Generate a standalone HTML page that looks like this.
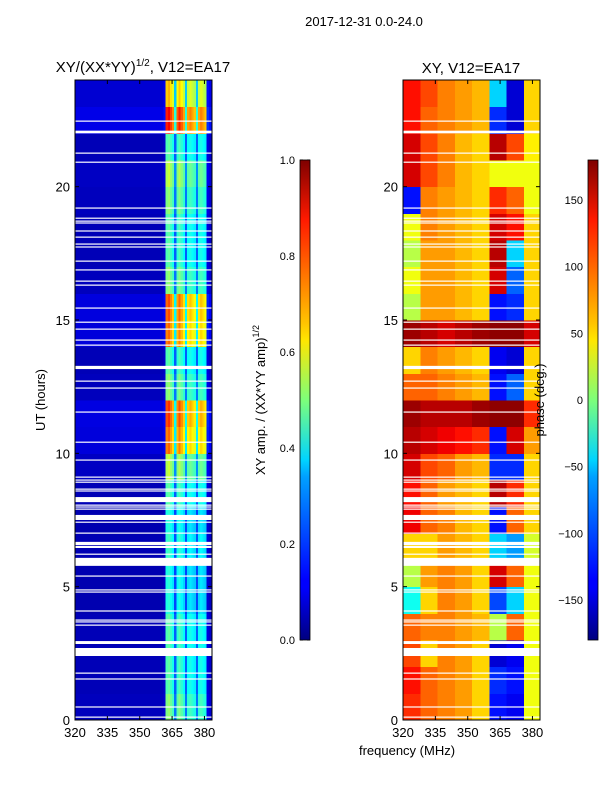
<!DOCTYPE html>
<html><head><meta charset="utf-8"><style>
body{margin:0;background:#fff;font-family:"Liberation Sans",sans-serif}
svg text{font-family:"Liberation Sans","DejaVu Sans",sans-serif;fill:#000}
</style></head><body>
<svg id="fig" width="600" height="800" viewBox="0 0 600 800" xmlns="http://www.w3.org/2000/svg">
<defs>
<linearGradient id="jet" x1="0" y1="1" x2="0" y2="0">
<stop offset="0" stop-color="#00007f"/><stop offset="0.11" stop-color="#0000ff"/><stop offset="0.125" stop-color="#0000ff"/>
<stop offset="0.34" stop-color="#00a0ff"/><stop offset="0.375" stop-color="#00d4ff"/><stop offset="0.5" stop-color="#7dff7a"/>
<stop offset="0.625" stop-color="#ffe600"/><stop offset="0.66" stop-color="#ffc400"/><stop offset="0.875" stop-color="#ff1a00"/>
<stop offset="1" stop-color="#7f0000"/></linearGradient>
</defs>
<text x="364" y="26" font-size="13" text-anchor="middle">2017-12-31 0.0-24.0</text>
<text x="143" y="72" font-size="15" text-anchor="middle">XY/(XX*YY)<tspan dy="-6" font-size="10">1/2</tspan><tspan dy="6">, V12=EA17</tspan></text>
<text x="471" y="73" font-size="15" text-anchor="middle">XY, V12=EA17</text>
<g id="ampPlot" shape-rendering="crispEdges"></g>
<g id="phPlot" shape-rendering="crispEdges"></g>
<g id="axes"></g>
<text transform="translate(45,400) rotate(-90)" font-size="13" text-anchor="middle">UT (hours)</text>
<text x="407" y="755" font-size="13" text-anchor="middle">frequency (MHz)</text>
<rect x="300" y="160" width="10" height="480" fill="url(#jet)" stroke="#000" stroke-width="0.8"/>
<rect x="588" y="160" width="10" height="480" fill="url(#jet)" stroke="#000" stroke-width="0.8"/>
<text transform="translate(265,400) rotate(-90)" font-size="13" text-anchor="middle">XY amp. / (XX*YY amp)<tspan dy="-6" font-size="9">1/2</tspan></text>
<text transform="translate(544,400) rotate(-90)" font-size="13" text-anchor="middle">phase (deg.)</text>
</svg>
<script>
// ---- data ----
const freqMin=320, freqMax=383.5, hourMin=0, hourMax=24;
const ampFreqs=[];for(let f=320;f<=383;f++)ampFreqs.push(f);
const ampColProfile=[0.06,0.06,0.06,0.06,0.06,0.06,0.06,0.06,0.06,0.06,0.06,0.06,0.06,0.06,0.06,0.06,0.06,0.06,0.06,0.06,0.06,0.06,0.06,0.06,0.06,0.06,0.06,0.06,0.06,0.06,0.06,0.06,0.06,0.06,0.06,0.06,0.06,0.06,0.06,0.06,0.06,0.08,0.5,0.52,0.48,0.44,0.24,0.46,0.5,0.46,0.42,0.24,0.42,0.44,0.42,0.4,0.24,0.42,0.44,0.42,0.4,0.1,0.08,0.08];
const ampHourGain=[1.0,0.9,0.9,0.9,0.8,0.8,0.85,0.8,0.9,1.1,1.5,1.6,1.0,0.9,1.5,1.55,1.0,0.9,0.9,1.0,1.1,0.9,1.7,1.35];
const phaseFreqEdges=[320,328,336,344,352,360,368,376,383.5];
const phaseValues=[
[120,100,90,80,60,-130,-140,40],[130,100,90,80,60,-120,-130,40],[110,60,90,80,60,-150,-140,40],
[100,90,90,80,70,20,100,40],[-40,60,90,80,60,-110,-60,40],[20,80,90,80,60,150,100,40],
[60,60,80,70,60,-60,-80,30],[140,100,90,70,60,-130,100,60],[130,100,80,70,60,160,120,60],
[150,110,100,80,70,-120,-120,60],[160,150,140,130,120,-130,150,80],[170,160,160,160,170,175,175,120],
[100,100,90,80,70,-130,-100,60],[60,90,80,70,60,-140,-150,60],[170,160,150,160,170,175,175,150],
[20,80,80,70,60,-130,-120,60],[40,80,80,70,60,150,-100,60],[20,80,80,70,60,160,-60,60],
[40,90,80,70,60,150,130,60],[-130,90,80,70,60,120,100,40],[150,110,90,70,60,40,40,40],
[150,110,90,70,60,160,110,50],[130,100,90,80,70,-120,-150,60],[130,110,90,80,70,-60,-150,60]];
const flagStart=[22.44,22.0,21.24,20.9,19.18,18.8,18.69,18.62,18.32,18.09,17.83,17.72,17.19,16.86,16.44,16.29,15.43,14.9,14.64,14.23,14.04,13.16,12.69,12.43,11.53,10.4,9.73,9.09,8.98,8.9,8.64,8.57,8.17,8.04,7.97,7.89,7.5,7.4,6.99,6.56,6.45,6.2,5.78,5.38,4.86,4.78,4.07,3.73,3.66,3.54,2.85,2.4,1.74,1.52,0.47,0.09];
const flagEnd  =[22.48,22.1,21.28,20.94,19.22,18.84,18.73,18.66,18.36,18.13,17.87,17.76,17.23,16.9,16.48,16.33,15.47,14.94,14.68,14.27,14.08,13.28,12.73,12.47,11.57,10.44,9.77,9.13,9.02,8.94,8.68,8.61,8.36,8.08,8.01,7.93,7.69,7.44,7.03,6.68,6.53,6.24,6.08,5.42,4.9,4.82,4.11,3.77,3.7,3.58,2.96,2.7,1.78,1.56,0.51,0.13];
const yTicks=[0,5,10,15,20];
const xTicks=[320,335,350,365,380];
const ampCbTicks=["0.0","0.2","0.4","0.6","0.8","1.0"];
const phCbTicks=[-150,-100,-50,0,50,100,150];

// ---- helpers ----
const NS="http://www.w3.org/2000/svg";
function jet(v){v=Math.max(0,Math.min(1,v));
 const r=Math.max(0,Math.min(1,Math.min(4*v-1.5,-4*v+4.5)));
 const g=Math.max(0,Math.min(1,Math.min(4*v-0.5,-4*v+3.5)));
 const b=Math.max(0,Math.min(1,Math.min(4*v+0.5,-4*v+2.5)));
 return `rgb(${Math.round(r*255)},${Math.round(g*255)},${Math.round(b*255)})`;}
function mk(tag,attrs,parent){const e=document.createElementNS(NS,tag);for(const k in attrs)e.setAttribute(k,attrs[k]);parent.appendChild(e);return e;}
const panels=[{x0:75,x1:212,g:'ampPlot'},{x0:403,x1:540,g:'phPlot'}];
const Y0=720,Y1=80;
function yS(h){return Y0-(h-hourMin)/(hourMax-hourMin)*(Y0-Y1);}
function xS(p,f){return p.x0+(f-freqMin)/(freqMax-freqMin)*(p.x1-p.x0);}

// amplitude heatmap
const pa=panels[0],ga=document.getElementById('ampPlot');
for(let h=0;h<24;h++){for(let i=0;i<ampFreqs.length;i++){
 const f0=ampFreqs[i],f1=Math.min(freqMax,f0+1);
 const v=ampColProfile[i]*ampHourGain[h];
 const r=mk('rect',{x:xS(pa,f0),y:yS(h+1),width:xS(pa,f1)-xS(pa,f0)+0.5,height:yS(h)-yS(h+1)+0.5,fill:jet(v)},ga);
 
 
}}
// phase heatmap
const pp=panels[1],gp=document.getElementById('phPlot');
for(let h=0;h<24;h++){for(let j=0;j<8;j++){
 const v=(phaseValues[h][j]+180)/360;
 const r=mk('rect',{x:xS(pp,phaseFreqEdges[j]),y:yS(h+1),width:xS(pp,phaseFreqEdges[j+1])-xS(pp,phaseFreqEdges[j])+0.5,height:yS(h)-yS(h+1)+0.5,fill:jet(v)},gp);
 
 
}}
// flagged rows and axes
const ax=document.getElementById('axes');
panels.forEach((p,pi)=>{
 for(let k=0;k<flagStart.length;k++){
  const r=mk('rect',{x:p.x0,y:yS(flagEnd[k]),width:p.x1-p.x0,height:Math.max(1.2,yS(flagStart[k])-yS(flagEnd[k])),fill:'#fff'},ax);
  
  
 }
 const fr=mk('rect',{x:p.x0,y:Y1,width:p.x1-p.x0,height:Y0-Y1,fill:'none',stroke:'#000','stroke-width':1},ax);
 
 
 yTicks.forEach(t=>{const y=yS(t);
  mk('line',{x1:p.x0,x2:p.x0+4,y1:y,y2:y,stroke:'#000'},ax);mk('line',{x1:p.x1,x2:p.x1-4,y1:y,y2:y,stroke:'#000'},ax);
  const tx=mk('text',{x:p.x0-5,y:y+5,'font-size':13,'text-anchor':'end'},ax);tx.textContent=t;
  
  
 });
 xTicks.forEach(t=>{const x=xS(p,t);
  mk('line',{x1:x,x2:x,y1:Y0,y2:Y0-4,stroke:'#000'},ax);mk('line',{x1:x,x2:x,y1:Y1,y2:Y1+4,stroke:'#000'},ax);
  const tx=mk('text',{x:x,y:Y0+17,'font-size':13,'text-anchor':'middle'},ax);tx.textContent=t;
  
  
 });
});
// colorbar ticks
ampCbTicks.forEach(t=>{const y=640-parseFloat(t)*480;
 mk('line',{x1:300,x2:303,y1:y,y2:y,stroke:'#000'},ax);mk('line',{x1:310,x2:307,y1:y,y2:y,stroke:'#000'},ax);
 const tx=mk('text',{x:295,y:y+4,'font-size':11,'text-anchor':'end'},ax);tx.textContent=t;
 
 
});
phCbTicks.forEach(t=>{const y=400-t*480/360;
 mk('line',{x1:588,x2:591,y1:y,y2:y,stroke:'#000'},ax);mk('line',{x1:598,x2:595,y1:y,y2:y,stroke:'#000'},ax);
 const tx=mk('text',{x:583,y:y+4,'font-size':11,'text-anchor':'end'},ax);tx.textContent=(t<0?'\u2212'+(-t):t);
 
 
});
</script>
</body></html>
